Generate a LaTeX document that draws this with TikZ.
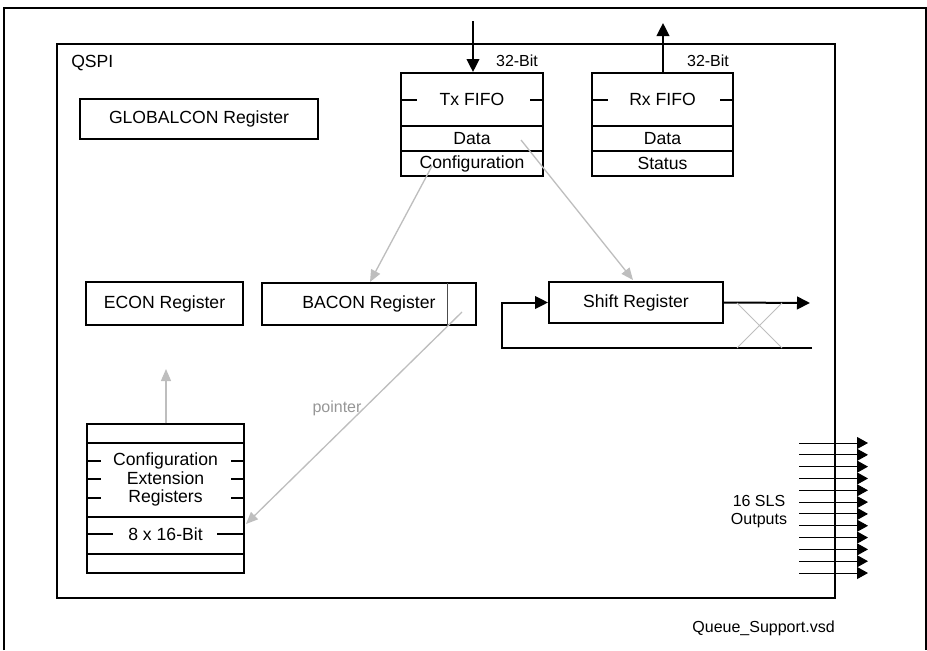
\documentclass[tikz,border=0pt]{standalone}
\usepackage{fontspec}
\setmainfont{Liberation Sans}
\usetikzlibrary{arrows.meta}
\definecolor{lg}{RGB}{190,190,190}
\definecolor{tg}{RGB}{150,150,150}
\tikzset{
  box/.style={draw, line width=1.5pt, inner sep=0pt, font=\fontsize{13.2}{15}\selectfont},
  txt/.style={inner sep=0pt, font=\fontsize{13.2}{15}\selectfont},
  small/.style={inner sep=0pt, font=\fontsize{12}{14}\selectfont},
  bigarrow/.style={line width=1.5pt, -{Triangle[length=9.75pt,width=9.5pt]}},
  grayarrow/.style={draw=lg, line width=1pt, -{Triangle[length=9pt,width=7.5pt,fill=lg]}},
  thin/.style={line width=0.9pt},
  slsarrow/.style={line width=0.75pt, -{Triangle[length=8.25pt,width=9pt]}}
}
\begin{document}
\begin{tikzpicture}[x=0.75pt,y=-0.75pt]
\useasboundingbox (0,0) rectangle (927,650);
% outer frame
\draw[line width=1pt] (4,650) -- (4,8) -- (926,8) -- (926,650);
% QSPI
\node[box, minimum width=583.5pt, minimum height=415.5pt] (qspi) at (446,321) {};
\node[txt, anchor=west] (qspilabel) at (71,63) {QSPI};
% GLOBALCON
\node[box, minimum width=178.5pt, minimum height=30pt] (global) at (199,119) {GLOBALCON Register};
% Tx FIFO
\node[box, minimum width=106.5pt, minimum height=39.75pt] (txtitle) at (472,99.5) {Tx FIFO};
\node[box, minimum width=106.5pt, minimum height=18.75pt] (txdata) at (472,138.5) {Data};
\node[box, minimum width=106.5pt, minimum height=18.75pt] (txconf) at (472,163.5) {Configuration};
\draw[line width=1.5pt] (txtitle.west) -- ++(17,0);
\draw[line width=1.5pt] (txtitle.east) -- ++(-14,0);
% Rx FIFO
\node[box, minimum width=105.75pt, minimum height=39.75pt] (rxtitle) at (662.5,99.5) {Rx FIFO};
\node[box, minimum width=105.75pt, minimum height=18.75pt] (rxdata) at (662.5,138.5) {Data};
\node[box, minimum width=105.75pt, minimum height=18.75pt] (rxstat) at (662.5,163.5) {Status};
\draw[line width=1.5pt] (rxtitle.west) -- ++(17,0);
\draw[line width=1.5pt] (rxtitle.east) -- ++(-14,0);
% bus arrows
\coordinate (txin) at (473,21);
\coordinate (rxout) at (663,23);
\draw[bigarrow] (txin) -- (txin |- txtitle.north);
\draw[bigarrow] (rxout |- rxtitle.north) -- (rxout);
\node[small] (txbits) at (517,61) {32-Bit};
\node[small] (rxbits) at (708,61) {32-Bit};
% ECON / BACON
\node[box, minimum width=117.75pt, minimum height=32.25pt] (econ) at (164.5,303.5) {ECON Register};
\node[box, minimum width=160.5pt, minimum height=31.5pt] (bacon) at (369,304) {BACON Register};
\draw[line width=0.75pt, draw=black!70] (447,283) -- (447,325);
% Shift register
\node[box, minimum width=130.5pt, minimum height=30.75pt] (shift) at (636,302.5) {Shift Register};
\coordinate (sout) at (810,303);
\coordinate (fbin) at (812,348);
\coordinate (fbcorner) at (502,348);
\draw[bigarrow] (shift.east) -- (sout);
\draw[bigarrow] (fbin) -- (fbcorner) -- (fbcorner |- shift.west) -- (shift.west);
\draw[draw=lg, line width=0.75pt] (737,303) -- (782,348) (737,348) -- (782,303);
% Configuration extension registers
\node[draw, line width=1pt, inner sep=0pt, minimum width=117.75pt, minimum height=111.75pt] (cer) at (165.5,498.5) {};
\draw[line width=1pt] (87,443) -- (244,443) (87,517) -- (244,517) (87,554) -- (244,554);
\node[txt, align=center, font=\fontsize{13.2}{13.9}\selectfont] (certext) at (165.5,479.5) {Configuration\\Extension\\Registers};
\node[txt] (cerbits) at (165.5,534) {8 x 16-Bit};
\foreach \yy in {461,479,498} {
  \draw[line width=1pt] (87,\yy) -- (101,\yy) (231,\yy) -- (244,\yy);
}
\draw[line width=1pt] (87,534) -- (113,534) (217,534) -- (244,534);
% gray arrows
\coordinate (confstart) at (432,166);
\coordinate (datastart) at (521,140);
\coordinate (ptrstart) at (462,312);
\coordinate (econin) at (166,369);
\draw[grayarrow] (confstart) -- (370,282);
\draw[grayarrow] (datastart) -- (633,280);
\draw[grayarrow] (ptrstart) -- (246,524);
\draw[grayarrow] (cer.north -| 166,0) -- (econin);
\node[inner sep=0pt, text=tg, font=\fontsize{12}{14}\selectfont] (ptrlabel) at (337,408) {pointer};
% SLS outputs
\foreach \i in {0,...,11} {
  \coordinate (slsa\i) at (799,{443+\i*11.82});
  \coordinate (slsb\i) at (868,{443+\i*11.82});
  \draw[slsarrow] (slsa\i) -- (slsb\i);
}
\node[small, align=center, font=\fontsize{12}{13.5}\selectfont] (slstext) at (759,512) {16 SLS\\Outputs};
% file name
\node[small, anchor=east] (fname) at (835,628) {Queue\_Support.vsd};
\end{tikzpicture}
\end{document}
